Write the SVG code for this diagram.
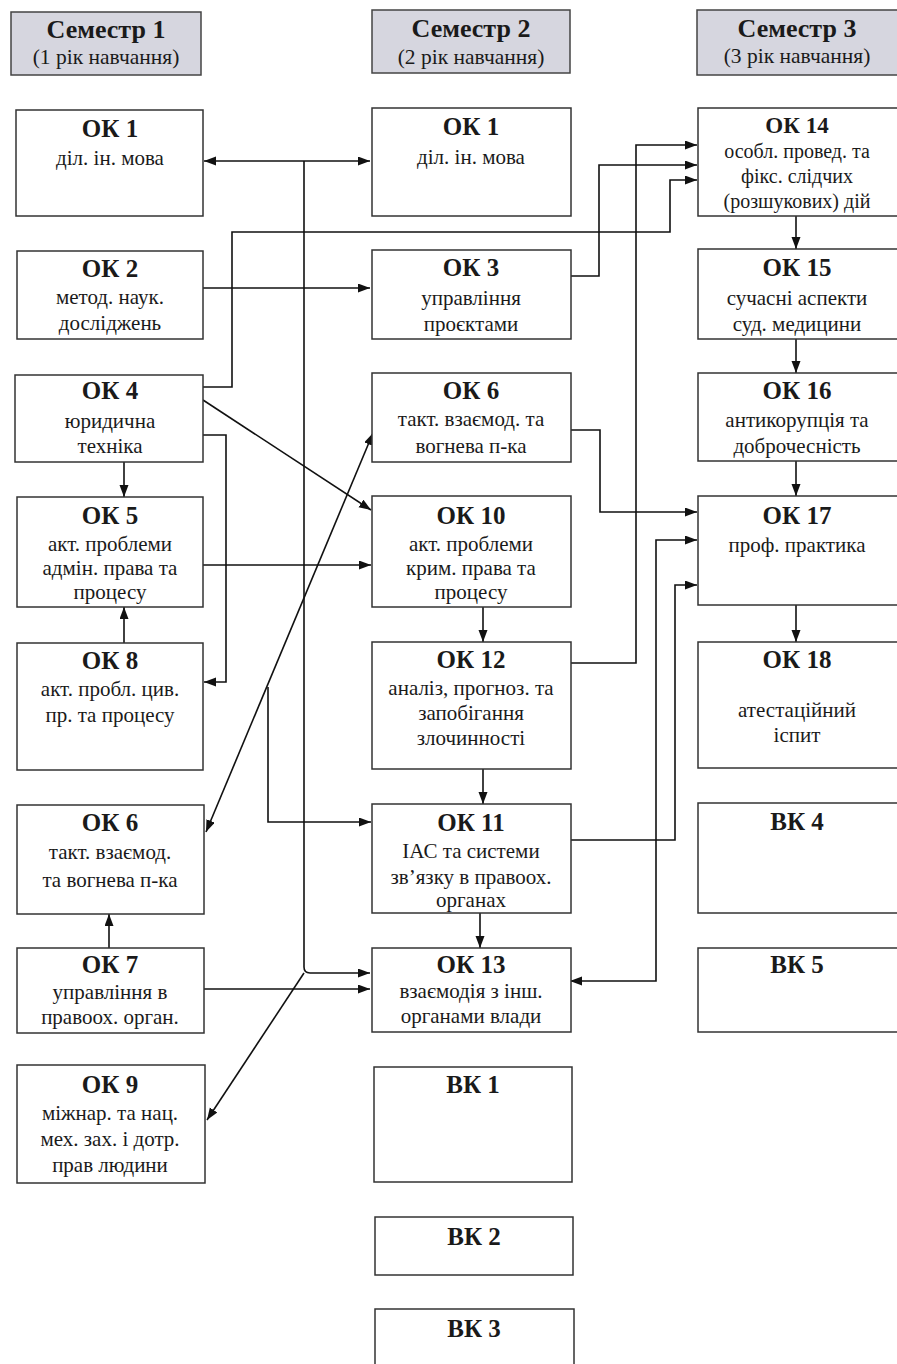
<svg xmlns="http://www.w3.org/2000/svg" width="897" height="1364" viewBox="0 0 897 1364">
<defs>
<marker id="ah" markerUnits="userSpaceOnUse" markerWidth="13" markerHeight="10" refX="12" refY="4.5" orient="auto-start-reverse">
<path d="M0,0 L12,4.5 L0,9 z" fill="#111"/>
</marker>
<style>
.box{fill:#fff;stroke:#333;stroke-width:1.5}
.hdr{fill:#d6d6df;stroke:#444;stroke-width:1.5}
text{font-family:"Liberation Serif","Times New Roman",serif;fill:#1a1a1a;text-anchor:middle}
.t{font-size:25px;font-weight:bold}
.b{font-size:21px}
.h1{font-size:26px;font-weight:bold}
.h2{font-size:21.5px}
.c{fill:none;stroke:#111;stroke-width:1.6}
.a{marker-end:url(#ah)}
.aa{marker-start:url(#ah);marker-end:url(#ah)}
</style>
</defs>

<g id="headers">
<g id="sem1"><rect class="hdr" x="11" y="12" width="190" height="63"/><text class="h1" x="106" y="38">Семестр 1</text><text class="h2" x="106" y="64">(1 рік навчання)</text></g>
<g id="sem2"><rect class="hdr" x="372" y="10" width="198" height="63"/><text class="h1" x="471" y="37">Семестр 2</text><text class="h2" x="471" y="64">(2 рік навчання)</text></g>
<g id="sem3"><rect class="hdr" x="697" y="10" width="210" height="65"/><text class="h1" x="797" y="37">Семестр 3</text><text class="h2" x="797" y="63">(3 рік навчання)</text></g>
</g>

<g id="connectors">
<path class="c aa" d="M204,161 H370"/>
<path class="c a" d="M304,161 V967 Q304,973 310,973 H370"/>
<path class="c a" d="M304,973 L207,1120"/>
<path class="c a" d="M203,288 H370"/>
<path class="c a" d="M203,387 H232 V232 H670 V180 H697"/>
<path class="c a" d="M571,276 H599 V165 H697"/>
<path class="c a" d="M571,663 H636 V145 H697"/>
<path class="c a" d="M203,400 L371,510"/>
<path class="c a" d="M203,435 H226 V682 H204"/>
<path class="c a" d="M124,462 V497"/>
<path class="c a" d="M124,643 V607"/>
<path class="c a" d="M203,565 H371"/>
<path class="c aa" d="M373,433 L206,832"/>
<path class="c a" d="M268,687 V822 H371"/>
<path class="c a" d="M483,607 V642"/>
<path class="c a" d="M483,769 V804"/>
<path class="c a" d="M480,913 V948"/>
<path class="c a" d="M571,430 H600 V512 H697"/>
<path class="c aa" d="M697,540 H656 V981 H570"/>
<path class="c a" d="M571,840 H675 V585 H697"/>
<path class="c a" d="M796,216 V249"/>
<path class="c a" d="M796,339 V373"/>
<path class="c a" d="M796,461 V496"/>
<path class="c a" d="M796,605 V642"/>
<path class="c a" d="M109,948 V914"/>
<path class="c a" d="M204,989 H370"/>
</g>

<g id="c1-ok1"><rect class="box" x="16" y="110" width="187" height="106"/><text class="t" x="110" y="137">ОК 1</text><text class="b" x="110" y="165">діл. ін. мова</text></g>
<g id="c1-ok2"><rect class="box" x="17" y="251" width="186" height="88"/><text class="t" x="110" y="277">ОК 2</text><text class="b" x="110" y="304">метод. наук.</text><text class="b" x="110" y="330">досліджень</text></g>
<g id="c1-ok4"><rect class="box" x="15" y="375" width="188" height="87"/><text class="t" x="110" y="399">ОК 4</text><text class="b" x="110" y="428">юридична</text><text class="b" x="110" y="453">техніка</text></g>
<g id="c1-ok5"><rect class="box" x="17" y="497" width="186" height="110"/><text class="t" x="110" y="524">ОК 5</text><text class="b" x="110" y="551">акт. проблеми</text><text class="b" x="110" y="575">адмін. права та</text><text class="b" x="110" y="599">процесу</text></g>
<g id="c1-ok8"><rect class="box" x="17" y="643" width="186" height="127"/><text class="t" x="110" y="669">ОК 8</text><text class="b" x="110" y="696">акт. пробл. цив.</text><text class="b" x="110" y="722">пр. та процесу</text></g>
<g id="c1-ok6"><rect class="box" x="17" y="805" width="187" height="109"/><text class="t" x="110" y="831">ОК 6</text><text class="b" x="110" y="859">такт. взаємод.</text><text class="b" x="110" y="887">та вогнева п-ка</text></g>
<g id="c1-ok7"><rect class="box" x="17" y="948" width="187" height="85"/><text class="t" x="110" y="973">ОК 7</text><text class="b" x="110" y="999">управління в</text><text class="b" x="110" y="1024">правоох. орган.</text></g>
<g id="c1-ok9"><rect class="box" x="17" y="1065" width="188" height="118"/><text class="t" x="110" y="1093">ОК 9</text><text class="b" x="110" y="1120">міжнар. та нац.</text><text class="b" x="110" y="1146">мех. зах. і дотр.</text><text class="b" x="110" y="1172">прав людини</text></g>

<g id="c2-ok1"><rect class="box" x="372" y="108" width="199" height="108"/><text class="t" x="471" y="135">ОК 1</text><text class="b" x="471" y="164">діл. ін. мова</text></g>
<g id="c2-ok3"><rect class="box" x="372" y="250" width="199" height="89"/><text class="t" x="471" y="276">ОК 3</text><text class="b" x="471" y="305">управління</text><text class="b" x="471" y="331">проєктами</text></g>
<g id="c2-ok6"><rect class="box" x="372" y="373" width="199" height="89"/><text class="t" x="471" y="399">ОК 6</text><text class="b" x="471" y="426">такт. взаємод. та</text><text class="b" x="471" y="453">вогнева п-ка</text></g>
<g id="c2-ok10"><rect class="box" x="372" y="496" width="199" height="111"/><text class="t" x="471" y="524">ОК 10</text><text class="b" x="471" y="551">акт. проблеми</text><text class="b" x="471" y="575">крим. права та</text><text class="b" x="471" y="599">процесу</text></g>
<g id="c2-ok12"><rect class="box" x="372" y="642" width="199" height="127"/><text class="t" x="471" y="668">ОК 12</text><text class="b" x="471" y="695">аналіз, прогноз. та</text><text class="b" x="471" y="720">запобігання</text><text class="b" x="471" y="745">злочинності</text></g>
<g id="c2-ok11"><rect class="box" x="372" y="804" width="199" height="109"/><text class="t" x="471" y="831">ОК 11</text><text class="b" x="471" y="858">ІАС та системи</text><text class="b" x="471" y="884">зв’язку в правоох.</text><text class="b" x="471" y="907">органах</text></g>
<g id="c2-ok13"><rect class="box" x="372" y="948" width="199" height="84"/><text class="t" x="471" y="973">ОК 13</text><text class="b" x="471" y="998">взаємодія з інш.</text><text class="b" x="471" y="1023">органами влади</text></g>
<g id="c2-vk1"><rect class="box" x="374" y="1067" width="198" height="115"/><text class="t" x="473" y="1093">ВК 1</text></g>
<g id="c2-vk2"><rect class="box" x="375" y="1217" width="198" height="58"/><text class="t" x="474" y="1245">ВК 2</text></g>
<g id="c2-vk3"><rect class="box" x="375" y="1309" width="199" height="70"/><text class="t" x="474" y="1337">ВК 3</text></g>

<g id="c3-ok14"><rect class="box" x="698" y="108" width="210" height="108"/><text class="t" x="797" y="133" style="font-size:23px">ОК 14</text><text class="b" x="797" y="158" style="font-size:20px">особл. провед. та</text><text class="b" x="797" y="183" style="font-size:20px">фікс. слідчих</text><text class="b" x="797" y="208" style="font-size:20px">(розшукових) дій</text></g>
<g id="c3-ok15"><rect class="box" x="698" y="249" width="210" height="90"/><text class="t" x="797" y="276">ОК 15</text><text class="b" x="797" y="305">сучасні аспекти</text><text class="b" x="797" y="331">суд. медицини</text></g>
<g id="c3-ok16"><rect class="box" x="698" y="373" width="210" height="88"/><text class="t" x="797" y="399">ОК 16</text><text class="b" x="797" y="427">антикорупція та</text><text class="b" x="797" y="453">доброчесність</text></g>
<g id="c3-ok17"><rect class="box" x="698" y="496" width="210" height="109"/><text class="t" x="797" y="524">ОК 17</text><text class="b" x="797" y="552">проф. практика</text></g>
<g id="c3-ok18"><rect class="box" x="698" y="642" width="210" height="126"/><text class="t" x="797" y="668">ОК 18</text><text class="b" x="797" y="717">атестаційний</text><text class="b" x="797" y="742">іспит</text></g>
<g id="c3-vk4"><rect class="box" x="698" y="803" width="210" height="110"/><text class="t" x="797" y="830">ВК 4</text></g>
<g id="c3-vk5"><rect class="box" x="698" y="948" width="210" height="84"/><text class="t" x="797" y="973">ВК 5</text></g>
</svg>
